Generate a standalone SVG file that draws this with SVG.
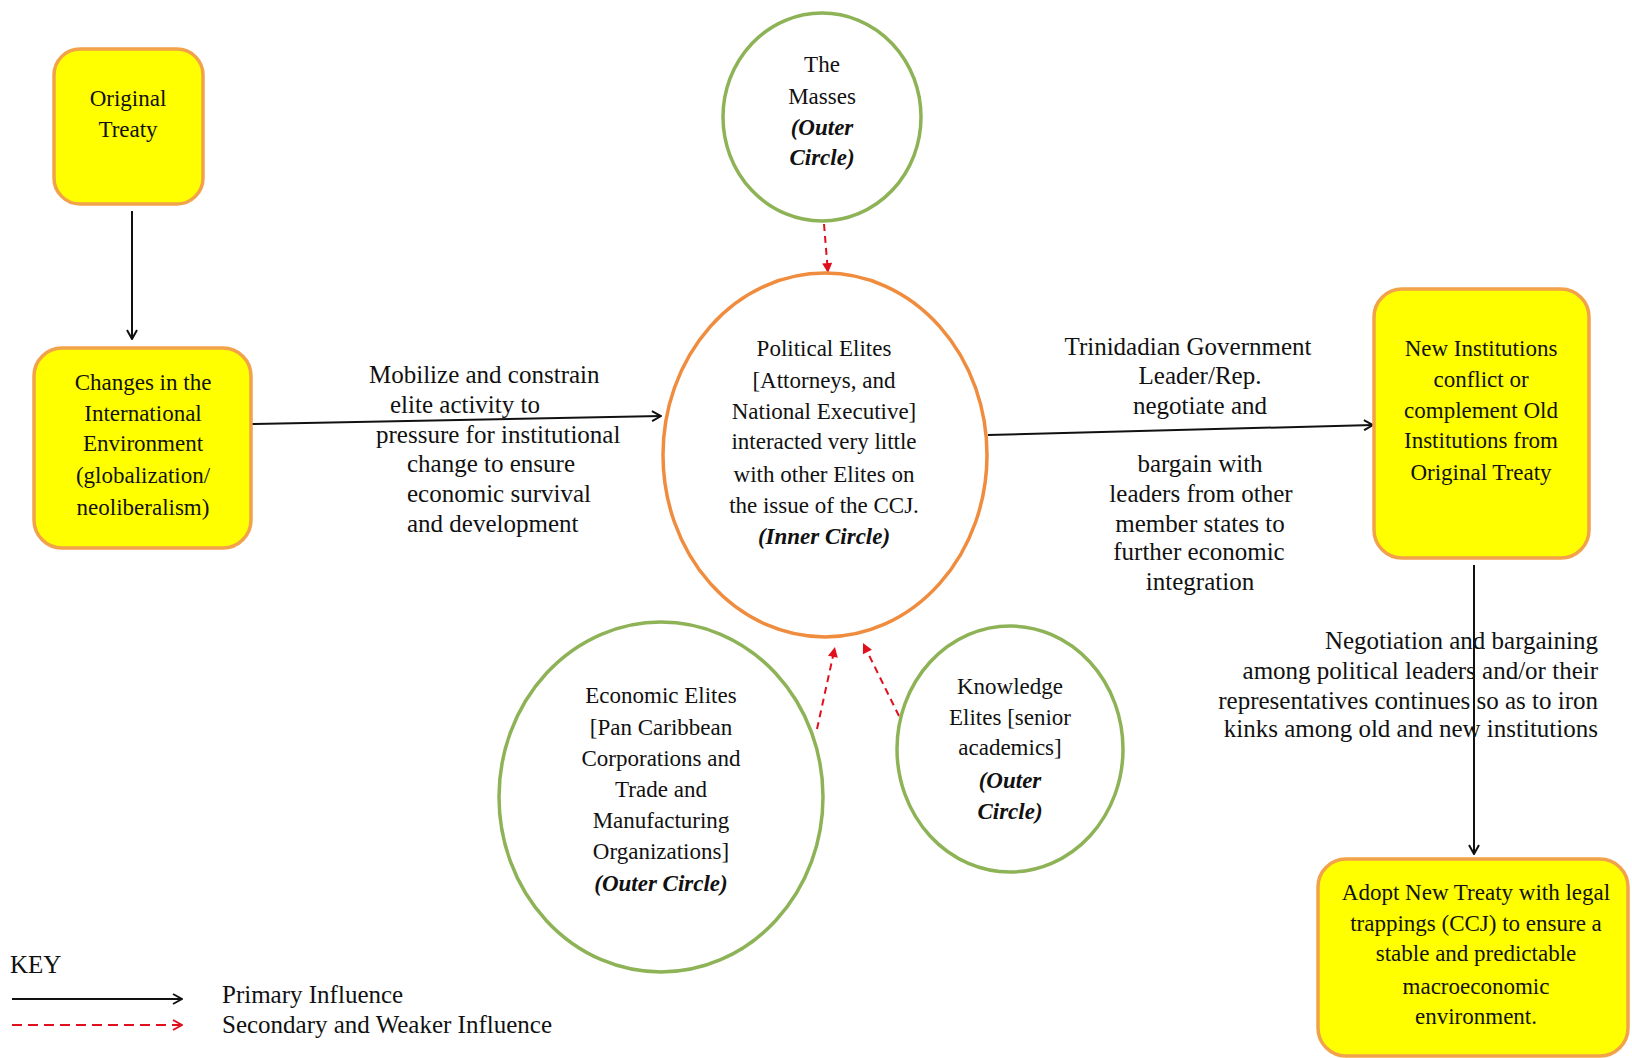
<svg xmlns="http://www.w3.org/2000/svg" width="1632" height="1058" viewBox="0 0 1632 1058">
<style>
text{fill:#111;}
.n{font-size:23px;text-anchor:middle;}
.l{font-size:25px;}
.c{text-anchor:middle;}
.e{text-anchor:end;}
.it{font-style:italic;font-weight:bold;}
.box{fill:#ffff00;stroke:#f2a24a;stroke-width:3.5;}
.gc{fill:#fff;stroke:#8db356;stroke-width:3.5;}
.oc{fill:#fff;stroke:#f08c3e;stroke-width:3.5;}
.p{stroke:#111;stroke-width:2;fill:none;marker-end:url(#ah);}
.s{stroke:#e0101e;stroke-width:2;fill:none;stroke-dasharray:7,5;marker-end:url(#ar);}
</style>
<defs>
<marker id="ah" viewBox="0 0 12 12" refX="11" refY="6" markerWidth="12" markerHeight="12" markerUnits="userSpaceOnUse" orient="auto">
<polyline points="2,1 11,6 2,11" fill="none" stroke="#111" stroke-width="2"/>
</marker>
<marker id="ar" viewBox="0 0 12 12" refX="11" refY="6" markerWidth="12" markerHeight="12" markerUnits="userSpaceOnUse" orient="auto">
<polygon points="1,1 11,6 1,11" fill="#e0101e"/>
</marker>
<marker id="ak" viewBox="0 0 12 12" refX="11" refY="6" markerWidth="12" markerHeight="12" markerUnits="userSpaceOnUse" orient="auto">
<polyline points="2,1 11,6 2,11" fill="none" stroke="#e0101e" stroke-width="2"/>
</marker>
</defs>
<rect width="1632" height="1058" fill="#fff"/>

<g id="connectors">
<line class="p" x1="132" y1="211" x2="132" y2="339"/>
<line class="p" x1="251" y1="424" x2="661" y2="416"/>
<line class="p" x1="988" y1="435" x2="1373" y2="425"/>
<line class="p" x1="1474" y1="565" x2="1474" y2="854"/>
<line class="s" x1="824" y1="224" x2="828" y2="273"/>
<line class="s" x1="817" y1="729" x2="835" y2="647"/>
<line class="s" x1="899" y1="716" x2="863" y2="643"/>
</g>

<g id="original-treaty" font-family="Liberation Serif">
<rect class="box" x="54" y="49" width="149" height="155" rx="26"/>
<text class="n" x="128" y="106">Original</text>
<text class="n" x="128" y="137">Treaty</text>
</g>

<g id="changes" font-family="Liberation Serif">
<rect class="box" x="34" y="348" width="217" height="200" rx="28"/>
<text class="n" x="143" y="390">Changes in the</text>
<text class="n" x="143" y="421">International</text>
<text class="n" x="143" y="451">Environment</text>
<text class="n" x="143" y="483">(globalization/</text>
<text class="n" x="143" y="515">neoliberalism)</text>
</g>

<g id="label-mobilize" class="l" font-family="Liberation Serif">
<text x="369" y="383">Mobilize and constrain</text>
<text x="390" y="413">elite activity to</text>
<text x="376" y="443">pressure for institutional</text>
<text x="407" y="472">change to ensure</text>
<text x="407" y="502">economic survival</text>
<text x="407" y="532">and development</text>
</g>

<g id="masses" font-family="Liberation Serif">
<ellipse class="gc" cx="822" cy="117" rx="99" ry="104"/>
<text class="n" x="822" y="72">The</text>
<text class="n" x="822" y="104">Masses</text>
<text class="n it" x="822" y="135">(Outer</text>
<text class="n it" x="822" y="165">Circle)</text>
</g>

<g id="political-elites" font-family="Liberation Serif">
<ellipse class="oc" cx="825" cy="455" rx="162" ry="182"/>
<text class="n" x="824" y="356">Political Elites</text>
<text class="n" x="824" y="388">[Attorneys, and</text>
<text class="n" x="824" y="419">National Executive]</text>
<text class="n" x="824" y="449">interacted very little</text>
<text class="n" x="824" y="482">with other Elites on</text>
<text class="n" x="824" y="513">the issue of the CCJ.</text>
<text class="n it" x="824" y="544">(Inner Circle)</text>
</g>

<g id="economic-elites" font-family="Liberation Serif">
<ellipse class="gc" cx="661" cy="797" rx="162" ry="175"/>
<text class="n" x="661" y="703">Economic Elites</text>
<text class="n" x="661" y="735">[Pan Caribbean</text>
<text class="n" x="661" y="766">Corporations and</text>
<text class="n" x="661" y="797">Trade and</text>
<text class="n" x="661" y="828">Manufacturing</text>
<text class="n" x="661" y="859">Organizations]</text>
<text class="n it" x="661" y="891">(Outer Circle)</text>
</g>

<g id="knowledge-elites" font-family="Liberation Serif">
<ellipse class="gc" cx="1010" cy="749" rx="113" ry="123"/>
<text class="n" x="1010" y="694">Knowledge</text>
<text class="n" x="1010" y="725">Elites [senior</text>
<text class="n" x="1010" y="755">academics]</text>
<text class="n it" x="1010" y="788">(Outer</text>
<text class="n it" x="1010" y="819">Circle)</text>
</g>

<g id="label-trinidad" class="l" font-family="Liberation Serif">
<text class="c" x="1188" y="355">Trinidadian Government</text>
<text class="c" x="1200" y="384">Leader/Rep.</text>
<text class="c" x="1200" y="414">negotiate and</text>
<text class="c" x="1200" y="472">bargain with</text>
<text class="c" x="1201" y="502">leaders from other</text>
<text class="c" x="1200" y="532">member states to</text>
<text class="c" x="1199" y="560">further economic</text>
<text class="c" x="1200" y="590">integration</text>
</g>

<g id="new-institutions" font-family="Liberation Serif">
<rect class="box" x="1374" y="289" width="215" height="269" rx="28"/>
<text class="n" x="1481" y="356">New Institutions</text>
<text class="n" x="1481" y="387">conflict or</text>
<text class="n" x="1481" y="418">complement Old</text>
<text class="n" x="1481" y="448">Institutions from</text>
<text class="n" x="1481" y="480">Original Treaty</text>
</g>

<g id="label-negotiation" class="l" font-family="Liberation Serif">
<text class="e" x="1598" y="649">Negotiation and bargaining</text>
<text class="e" x="1598" y="679">among political leaders and/or their</text>
<text class="e" x="1598" y="709">representatives continues so as to iron</text>
<text class="e" x="1598" y="737">kinks among old and new institutions</text>
</g>

<g id="adopt-treaty" font-family="Liberation Serif">
<rect class="box" x="1318" y="859" width="310" height="197" rx="28"/>
<text class="n" x="1476" y="900">Adopt New Treaty with legal</text>
<text class="n" x="1476" y="931">trappings (CCJ) to ensure a</text>
<text class="n" x="1476" y="961">stable and predictable</text>
<text class="n" x="1476" y="994">macroeconomic</text>
<text class="n" x="1476" y="1024">environment.</text>
</g>

<g id="key" font-family="Liberation Serif">
<text class="l" x="10" y="973">KEY</text>
<line x1="12" y1="999" x2="182" y2="999" stroke="#111" stroke-width="2" marker-end="url(#ah)"/>
<line x1="12" y1="1025" x2="182" y2="1025" stroke="#e0101e" stroke-width="2" stroke-dasharray="10,6" marker-end="url(#ak)"/>
<text class="l" x="222" y="1003">Primary Influence</text>
<text class="l" x="222" y="1033">Secondary and Weaker Influence</text>
</g>
</svg>
